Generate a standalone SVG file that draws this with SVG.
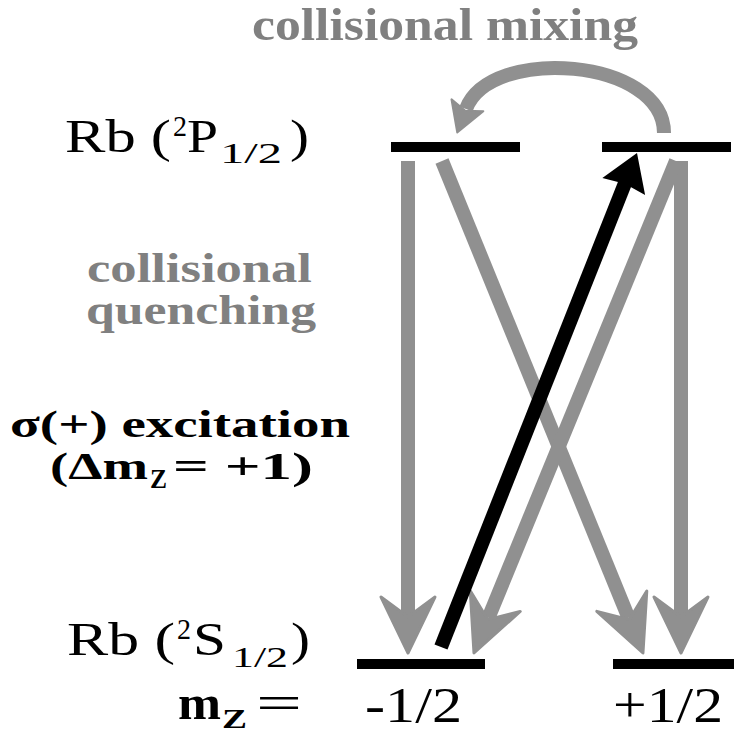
<svg xmlns="http://www.w3.org/2000/svg" width="734" height="733" viewBox="0 0 734 733">
<defs>
<style>
.lvl{fill:#000}
.g{fill:none;stroke:#909090;stroke-width:14;stroke-linecap:butt}
.k{fill:none;stroke:#000;stroke-width:14;stroke-linecap:butt}
text{font-family:"Liberation Serif","Times New Roman","DejaVu Serif",serif;fill:#000}
.b{font-weight:bold}
.gt{fill:#808080;font-weight:bold}
</style>
<marker id="ah-gray" markerUnits="userSpaceOnUse" markerWidth="80" markerHeight="80" refX="0" refY="0" orient="auto" overflow="visible">
<path d="M38,0 L-18,-27 L2,0 L-18,27 Z" fill="#909090" stroke="#909090" stroke-width="3" stroke-linejoin="round"/>
</marker>
<marker id="ah-curve" markerUnits="userSpaceOnUse" markerWidth="60" markerHeight="60" refX="0" refY="0" orient="auto" overflow="visible">
<path d="M25,0 L-4,-17 L2,0 L-4,17 Z" fill="#909090" stroke="#909090" stroke-width="2" stroke-linejoin="round"/>
</marker>
<marker id="ah-black" markerUnits="userSpaceOnUse" markerWidth="60" markerHeight="60" refX="0" refY="0" orient="auto" overflow="visible">
<path d="M32,0 L-4,-23 L-1,0 L-4,23 Z" fill="#000"/>
</marker>
</defs>
<rect width="734" height="733" fill="#fff"/>

<g id="level-P-minus"><rect class="lvl" x="391" y="142" width="129" height="10"/></g>
<g id="level-P-plus"><rect class="lvl" x="602" y="142" width="129" height="10"/></g>
<g id="level-S-minus"><rect class="lvl" x="357" y="659" width="128" height="10"/></g>
<g id="level-S-plus"><rect class="lvl" x="613" y="659" width="121" height="10"/></g>

<g id="connectors">
<path class="g" d="M408,161 L408,615" marker-end="url(#ah-gray)"/>
<path class="g" d="M442,161 L628.6,617.8" marker-end="url(#ah-gray)"/>
<path class="g" d="M681,161 L681,615" marker-end="url(#ah-gray)"/>
<path class="g" d="M676,161 L488.4,617.8" marker-end="url(#ah-gray)"/>
<path class="g" stroke-width="13" d="M664,133 C664,58 490,45 466,109" marker-end="url(#ah-curve)"/>
<path class="k" d="M441,647 L625.2,182.7" marker-end="url(#ah-black)"/>
</g>

<g id="label-mixing">
<text class="gt" x="252" y="40" font-size="46" textLength="386" lengthAdjust="spacingAndGlyphs">collisional mixing</text>
</g>
<g id="label-quenching">
<text class="gt" x="87" y="282" font-size="42" textLength="225" lengthAdjust="spacingAndGlyphs">collisional</text>
<text class="gt" x="86" y="324" font-size="42" textLength="230" lengthAdjust="spacingAndGlyphs">quenching</text>
</g>
<g id="label-excitation">
<text class="b" x="10" y="437" font-size="38" textLength="340" lengthAdjust="spacingAndGlyphs">σ(+) excitation</text>
<text class="b" y="479" font-size="38"><tspan x="50" textLength="98" lengthAdjust="spacingAndGlyphs">(Δm</tspan><tspan x="150" y="488" font-size="27" textLength="17" lengthAdjust="spacingAndGlyphs">Z</tspan><tspan x="173" y="479" textLength="140" lengthAdjust="spacingAndGlyphs">= +1)</tspan></text>
</g>
<g id="label-P">
<text y="152" font-size="46"><tspan x="65" textLength="106" lengthAdjust="spacingAndGlyphs">Rb (</tspan><tspan x="173" y="136" font-size="30" textLength="14" lengthAdjust="spacingAndGlyphs">2</tspan><tspan x="187" y="152" textLength="31" lengthAdjust="spacingAndGlyphs">P</tspan><tspan x="220" y="163" font-size="30" textLength="62" lengthAdjust="spacingAndGlyphs">1/2</tspan><tspan x="290" y="152" textLength="19" lengthAdjust="spacingAndGlyphs">)</tspan></text>
</g>
<g id="label-S">
<text y="655" font-size="46"><tspan x="67" textLength="108" lengthAdjust="spacingAndGlyphs">Rb (</tspan><tspan x="177" y="639" font-size="30" textLength="14" lengthAdjust="spacingAndGlyphs">2</tspan><tspan x="193" y="655" textLength="33" lengthAdjust="spacingAndGlyphs">S</tspan><tspan x="232" y="667" font-size="30" textLength="56" lengthAdjust="spacingAndGlyphs">1/2</tspan><tspan x="291" y="655" textLength="19" lengthAdjust="spacingAndGlyphs">)</tspan></text>
</g>
<g id="label-mz">
<text y="719" font-size="48"><tspan class="b" x="178" textLength="43" lengthAdjust="spacingAndGlyphs">m</tspan><tspan class="b" x="222" y="728" font-size="28" textLength="25" lengthAdjust="spacingAndGlyphs">Z</tspan><tspan x="256" y="719" textLength="46" lengthAdjust="spacingAndGlyphs">=</tspan></text>
</g>
<g id="label-minus-half">
<text x="365" y="722" font-size="50" textLength="97" lengthAdjust="spacingAndGlyphs">-1/2</text>
</g>
<g id="label-plus-half">
<text x="613" y="722" font-size="50" textLength="110" lengthAdjust="spacingAndGlyphs">+1/2</text>
</g>
</svg>
